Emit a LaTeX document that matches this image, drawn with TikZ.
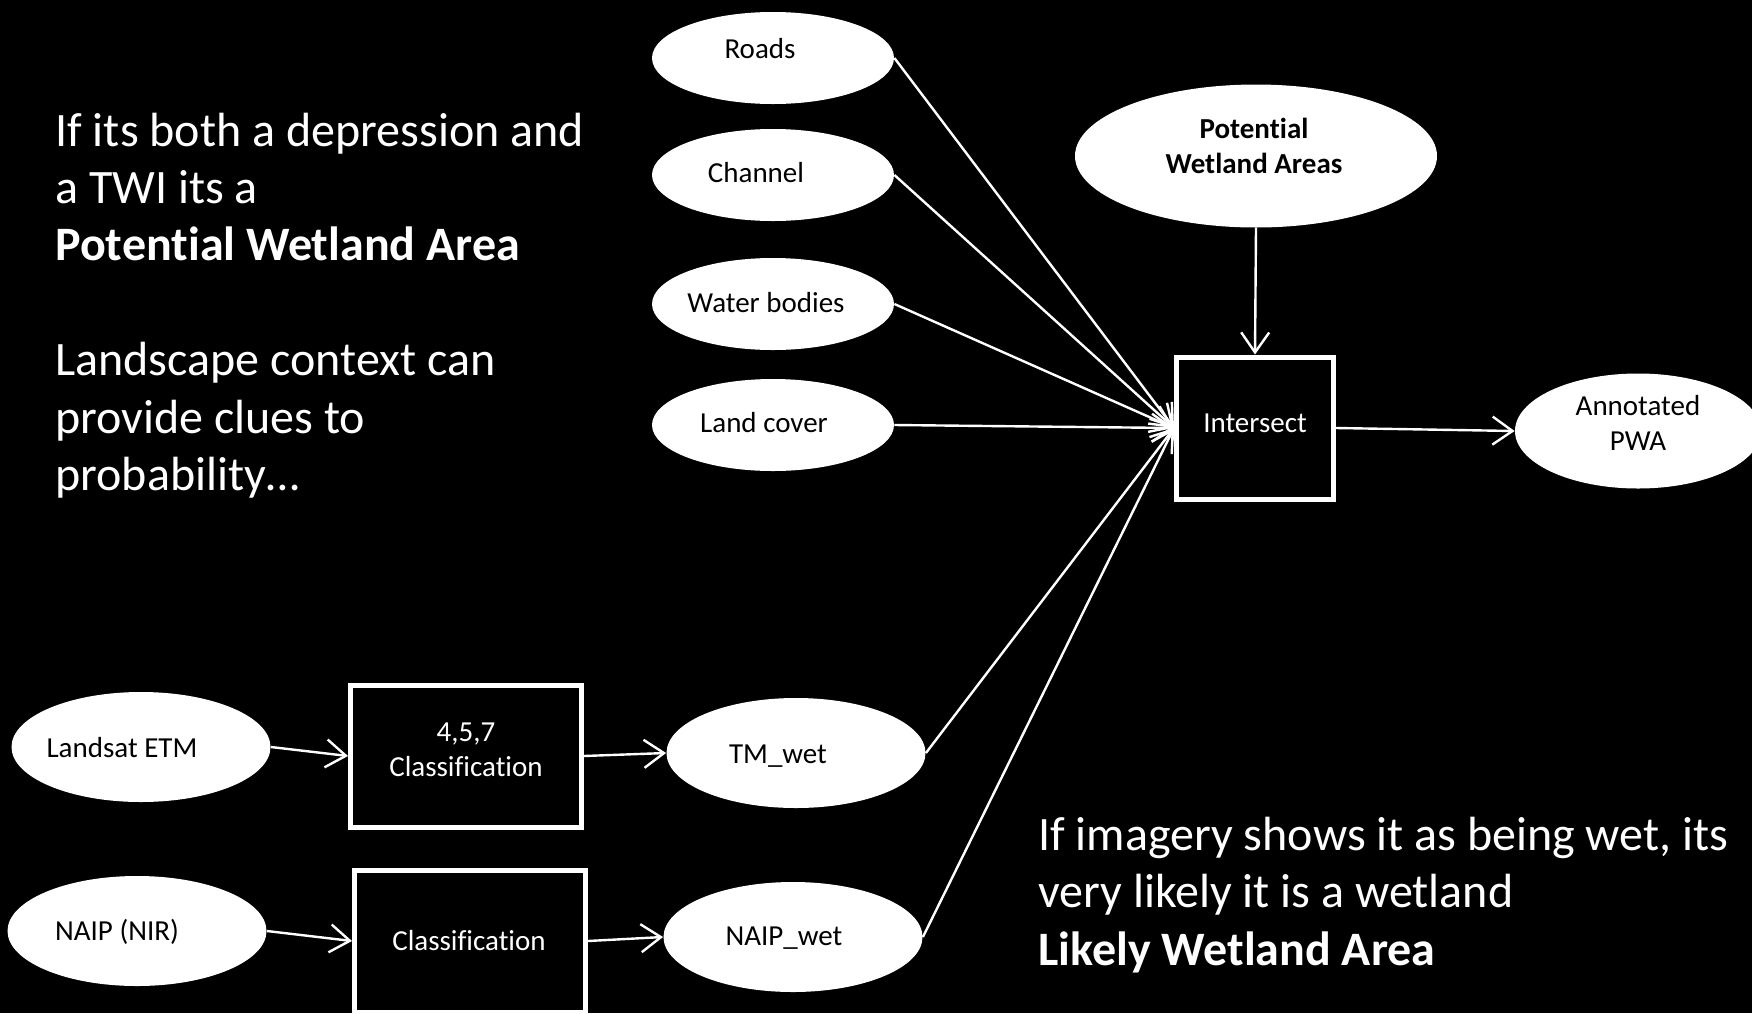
\documentclass[tikz,border=0pt]{standalone}
\usepackage{fontspec}
\setmainfont[Ligatures=NoCommon]{Carlito}
\usetikzlibrary{shapes.geometric,arrows.meta,calc}
\begin{document}
\begin{tikzpicture}[x=0.5pt,y=-0.5pt,
  ell/.style={ellipse,fill=white,draw=none,inner sep=0pt},
  smallell/.style={ell,minimum width=121pt,minimum height=46pt},
  lowell/.style={ell,minimum width=129.5pt,minimum height=55pt},
  procbox/.style={rectangle,draw=white,line width=2.5pt,fill=black,inner sep=0pt},
  stxt/.style={text=black,font=\fontsize{14.5}{17.5}\selectfont,align=center,inner sep=0pt},
  wtxt/.style={stxt,text=white},
  bigtxt/.style={text=white,font=\fontsize{24}{28.5}\selectfont,align=left,inner sep=0pt,anchor=base west},
  arr/.style={draw=white,line width=1.2pt,-{Straight Barb[length=10pt,width=14pt,line width=1.2pt]}}
]
\useasboundingbox (0,0) rectangle (1752,1013);
\clip (0,0) rectangle (1752,1013);
\fill[black] (0,0) rectangle (1752,1013);

% top input ellipses
\node[smallell] (roads) at (773,58) {};
\node[stxt] (roadst) at (760,49) {Roads};
\node[smallell] (chan) at (773,175) {};
\node[stxt] (chant) at (756,173) {Channel};
\node[smallell] (water) at (773,304) {};
\node[stxt] (watert) at (766,303) {Water bodies};
\node[smallell] (land) at (773,425) {};
\node[stxt] (landt) at (764,423) {Land cover};

% potential wetland areas
\node[ell,minimum width=181pt,minimum height=71.5pt] (pwa) at (1256,156) {};
\node[stxt,font=\fontsize{14.5}{17.5}\selectfont\bfseries] (pwat) at (1254,146) {Potential\\Wetland Areas};

% intersect
\node[procbox,minimum width=78.5pt,minimum height=71pt] (inter) at (1255,428) {};
\node[wtxt] (intert) at (1255,423) {Intersect};

% annotated
\node[ell,minimum width=123pt,minimum height=57.5pt] (ann) at (1638,431) {};
\node[stxt] (annt) at (1638,423) {Annotated\\PWA};

% lower chain
\node[lowell] (landsat) at (141,747) {};
\node[stxt] (landsatt) at (122,748) {Landsat ETM};
\node[procbox,minimum width=115.5pt,minimum height=71pt] (cls1) at (466,756) {};
\node[wtxt] (cls1t) at (466,750) {4,5,7\\Classification};
\node[lowell] (tm) at (796,753) {};
\node[stxt] (tmt) at (778,756) {TM\_wet};

\node[lowell] (naip) at (137,931) {};
\node[stxt] (naipt) at (117,932) {NAIP (NIR)};
\node[procbox,minimum width=115.5pt,minimum height=71pt] (cls2) at (470,941) {};
\node[wtxt] (cls2t) at (469,941) {Classification};
\node[lowell] (nwet) at (793,937) {};
\node[stxt] (nwett) at (784,938) {NAIP\_wet};

% connectors
\draw[arr] (roads.east) -- (inter.west);
\draw[arr] (chan.east) -- (inter.west);
\draw[arr] (water.east) -- (inter.west);
\draw[arr] (land.east) -- (inter.west);
\draw[arr] (tm.east) -- (inter.west);
\draw[arr] (nwet.east) -- (inter.west);
\draw[arr] (pwa.south) -- (inter.north);
\draw[arr] (inter.east) -- (ann.west);
\draw[arr] (landsat.east) -- (cls1.west);
\draw[arr] (cls1.east) -- (tm.west);
\draw[arr] (naip.east) -- (cls2.west);
\draw[arr] (cls2.east) -- (nwet.west);

% explanatory texts
\node[bigtxt] (l1) at (55,146) {If its both a depression and};
\node[bigtxt] (l2) at (55,203) {a TWI its a};
\node[bigtxt,font=\fontsize{24}{28.5}\selectfont\bfseries] (l3) at (55,260) {Potential Wetland Area};
\node[bigtxt] (l4) at (55,375) {Landscape context can};
\node[bigtxt] (l5) at (55,433) {provide clues to};
\node[bigtxt] (l6) at (55,490) {probability\ldots};

\node[bigtxt] (r1) at (1038,850) {If imagery shows it as being wet, its};
\node[bigtxt] (r2) at (1038,907) {very likely it is a wetland};
\node[bigtxt,font=\fontsize{24}{28.5}\selectfont\bfseries] (r3) at (1038,965) {Likely Wetland Area};
\end{tikzpicture}
\end{document}
